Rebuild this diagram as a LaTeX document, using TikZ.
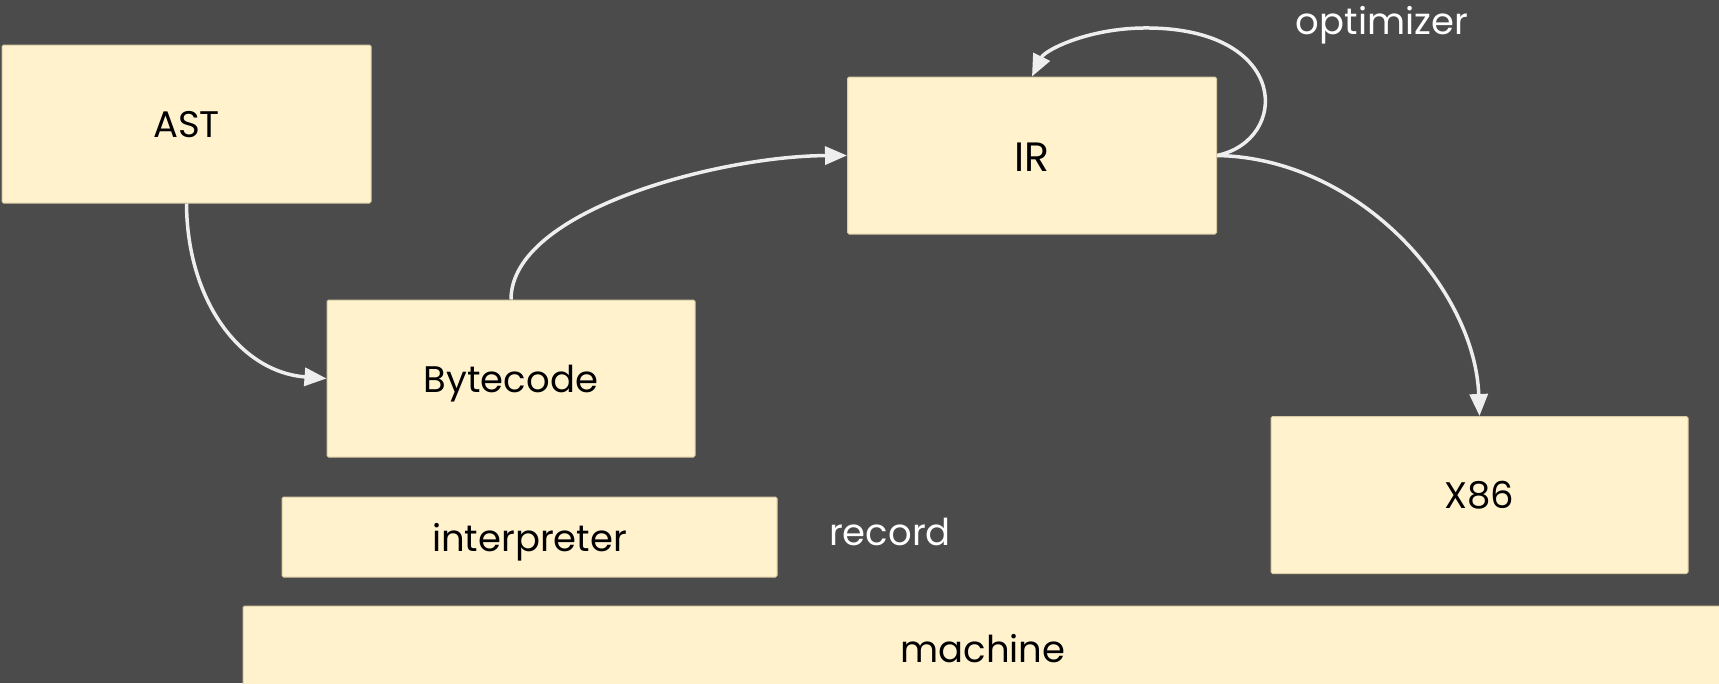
\documentclass[tikz,border=0pt]{standalone}
\usepackage{fontspec}
\setmainfont{Poppins}
\usetikzlibrary{arrows.meta}
\definecolor{bgc}{HTML}{4B4B4B}
\definecolor{boxfill}{HTML}{FFF2CC}
\definecolor{boxline}{HTML}{D9CBA3}
\definecolor{arrowc}{HTML}{EEEEEE}
\begin{document}
\begin{tikzpicture}[x=1pt,y=-1pt,
  blk/.style={draw=boxline, line width=1pt, fill=boxfill, rounded corners=1.5pt, inner sep=0pt, text depth=0pt, text=black, font=\fontsize{37}{42}\selectfont},
  lbl/.style={inner sep=0pt, text=white, font=\fontsize{37}{42}\selectfont},
  conn/.style={draw=arrowc, line width=3.5pt, -{Triangle[length=22pt,width=18pt]}}]
\useasboundingbox (0,0) rectangle (1719,683);
\fill[bgc] (0,0) rectangle (1719,683);
\clip (0,0) rectangle (1719,683);
\node[blk, minimum width=369pt, minimum height=158pt] (ast) at (186.5,124) {AST};
\node[blk, minimum width=368pt, minimum height=157pt] (byte) at (511,378.5) {Bytecode};
\node[blk, minimum width=369pt, minimum height=157pt, font=\fontsize{41}{46}\selectfont] (ir) at (1032,155.5) {\raisebox{-4pt}{IR}};
\node[blk, minimum width=417pt, minimum height=157pt] (x86) at (1479.5,495) {X86};
\node[blk, minimum width=495pt, minimum height=80pt] (interp) at (529.5,537) {interpreter};
\node[blk, minimum width=1480pt, minimum height=84pt] (mach) at (983,648) {machine};
\node[lbl] (rec) at (890,532) {record};
\node[lbl] (opt) at (1382,25) {optimizer};
\draw[conn] (ast.south) .. controls (187,300) and (240,372) .. (byte.west);
\draw[conn] (byte.north) .. controls (511,210) and (720,156) .. (ir.west);
\draw[conn] (ir.east) .. controls (1360,158) and (1475,290) .. (x86.north);
\draw[conn] (ir.east) .. controls (1290,140) and (1290,30) .. (1150,28) .. controls (1090,27) and (1045,50) .. (ir.north);
\end{tikzpicture}
\end{document}
